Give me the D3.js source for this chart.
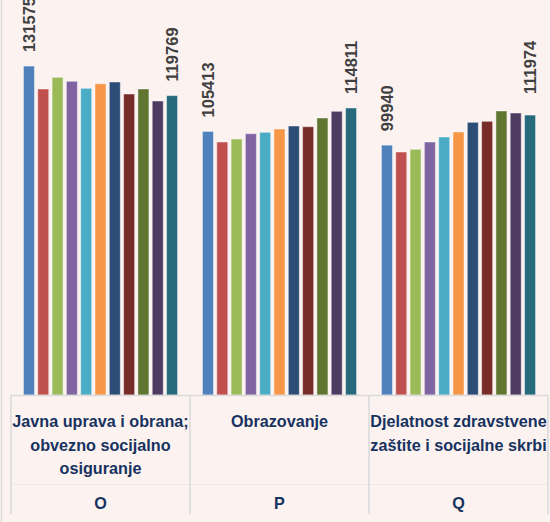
<!DOCTYPE html>
<html><head><meta charset="utf-8">
<script src="https://cdn.jsdelivr.net/npm/d3@7"></script>
<style>
html,body{margin:0;padding:0;background:#fcf3f1;}
svg{display:block;}
</style></head>
<body>
<svg id="chart" width="550" height="522"></svg>
<script>
// ---- data ----
const categories = ["O", "P", "Q"];
const categoryNames = [
  ["Javna uprava i obrana;", "obvezno socijalno", "osiguranje"],
  ["Obrazovanje"],
  ["Djelatnost zdravstvene", "zaštite i socijalne skrbi"]
];
const seriesNames = ["S1","S2","S3","S4","S5","S6","S7","S8","S9","S10","S11"];
const valuesO = [131575, 122400, 127080, 125480, 122680, 124520, 125200, 120400, 122400, 117600, 119769];
const valuesP = [105413, 101200, 102400, 104520, 105080, 106400, 107600, 107320, 110800, 113480, 114811];
const valuesQ = [99940, 97200, 98280, 101200, 103200, 105200, 109080, 109480, 113600, 112800, 111974];
const seriesColors = ["#4F81BD","#C0504D","#9BBB59","#8064A2","#4BACC6","#F79646","#2C4D75","#772C2A","#5F7530","#4D3B62","#276A7C"];
const labelledSeries = [0, 10];

const allValues = [valuesO, valuesP, valuesQ];

// ---- layout ----
const svg = d3.select("#chart");
const left = 11, right = 548, baseY = 395, labelBottom = 514;

const x0 = d3.scaleBand().domain(categories).range([left, right]).padding(0);
const x1 = d3.scaleBand().domain(seriesNames).range([0, x0.bandwidth()])
  .paddingInner(0.23).paddingOuter(0.87);
const y = d3.scaleLinear().domain([0, 160000]).range([baseY, baseY - 160000/400]);

// left chart border
svg.append("line").attr("x1",1.5).attr("x2",1.5).attr("y1",0).attr("y2",522)
  .attr("stroke","#d9d9d9").attr("stroke-width",1.5);

// bars
const groups = svg.selectAll("g.cat").data(categories).enter().append("g")
  .attr("class","cat").attr("transform", d => `translate(${x0(d)},0)`);

groups.each(function(cat, ci){
  const g = d3.select(this);
  const vals = allValues[ci];
  g.selectAll("rect").data(vals).enter().append("rect")
    .attr("x", (v,i) => x1(seriesNames[i]))
    .attr("width", x1.bandwidth())
    .attr("y", v => y(v))
    .attr("height", v => baseY - y(v))
    .attr("fill", (v,i) => seriesColors[i])
    .attr("stroke", "rgba(255,255,255,0.45)")
    .attr("stroke-width", 1);

  g.selectAll("text.val").data(labelledSeries).enter().append("text")
    .attr("class","val")
    .attr("transform", i => {
      const cx = x1(seriesNames[i]) + x1.bandwidth()/2;
      const extra = (ci === 2 && i === 10) ? 7 : 0;
      return `translate(${cx},${y(vals[i]) - 14 - extra}) rotate(-90)`;
    })
    .attr("dy","0.36em")
    .attr("text-anchor","start")
    .attr("font-family","Liberation Sans, Arial, sans-serif")
    .attr("font-weight","bold")
    .attr("font-size","16.5px")
    .attr("fill","#404040")
    .text(i => vals[i]);
});

// category axis
const axisG = svg.append("g");
axisG.append("line").attr("x1",left).attr("x2",right).attr("y1",baseY+0.5).attr("y2",baseY+0.5)
  .attr("stroke","#d9d9d9").attr("stroke-width",1.5);
axisG.append("line").attr("x1",left).attr("x2",right).attr("y1",484.5).attr("y2",484.5)
  .attr("stroke","#f0e6e4").attr("stroke-width",1);
const bounds = categories.map(c => x0(c)).concat([right]);
axisG.selectAll("line.sep").data(bounds).enter().append("line").attr("class","sep")
  .attr("x1", d => d).attr("x2", d => d).attr("y1", baseY).attr("y2", labelBottom)
  .attr("stroke","#d9d9d9").attr("stroke-width",1.5);

categories.forEach((c, ci) => {
  const cx = x0(c) + x0.bandwidth()/2;
  const t = axisG.append("text")
    .attr("text-anchor","middle")
    .attr("font-family","Liberation Sans, Arial, sans-serif")
    .attr("font-weight","bold")
    .attr("font-size","16.2px")
    .attr("fill","#17325f");
  categoryNames[ci].forEach((line, li) => {
    t.append("tspan").attr("x", cx).attr("y", 427 + li*23.5).text(line);
  });
  axisG.append("text")
    .attr("x", cx).attr("y", 509)
    .attr("text-anchor","middle")
    .attr("font-family","Liberation Sans, Arial, sans-serif")
    .attr("font-weight","bold")
    .attr("font-size","16.2px")
    .attr("fill","#17325f")
    .text(c);
});
</script>
</body></html>
